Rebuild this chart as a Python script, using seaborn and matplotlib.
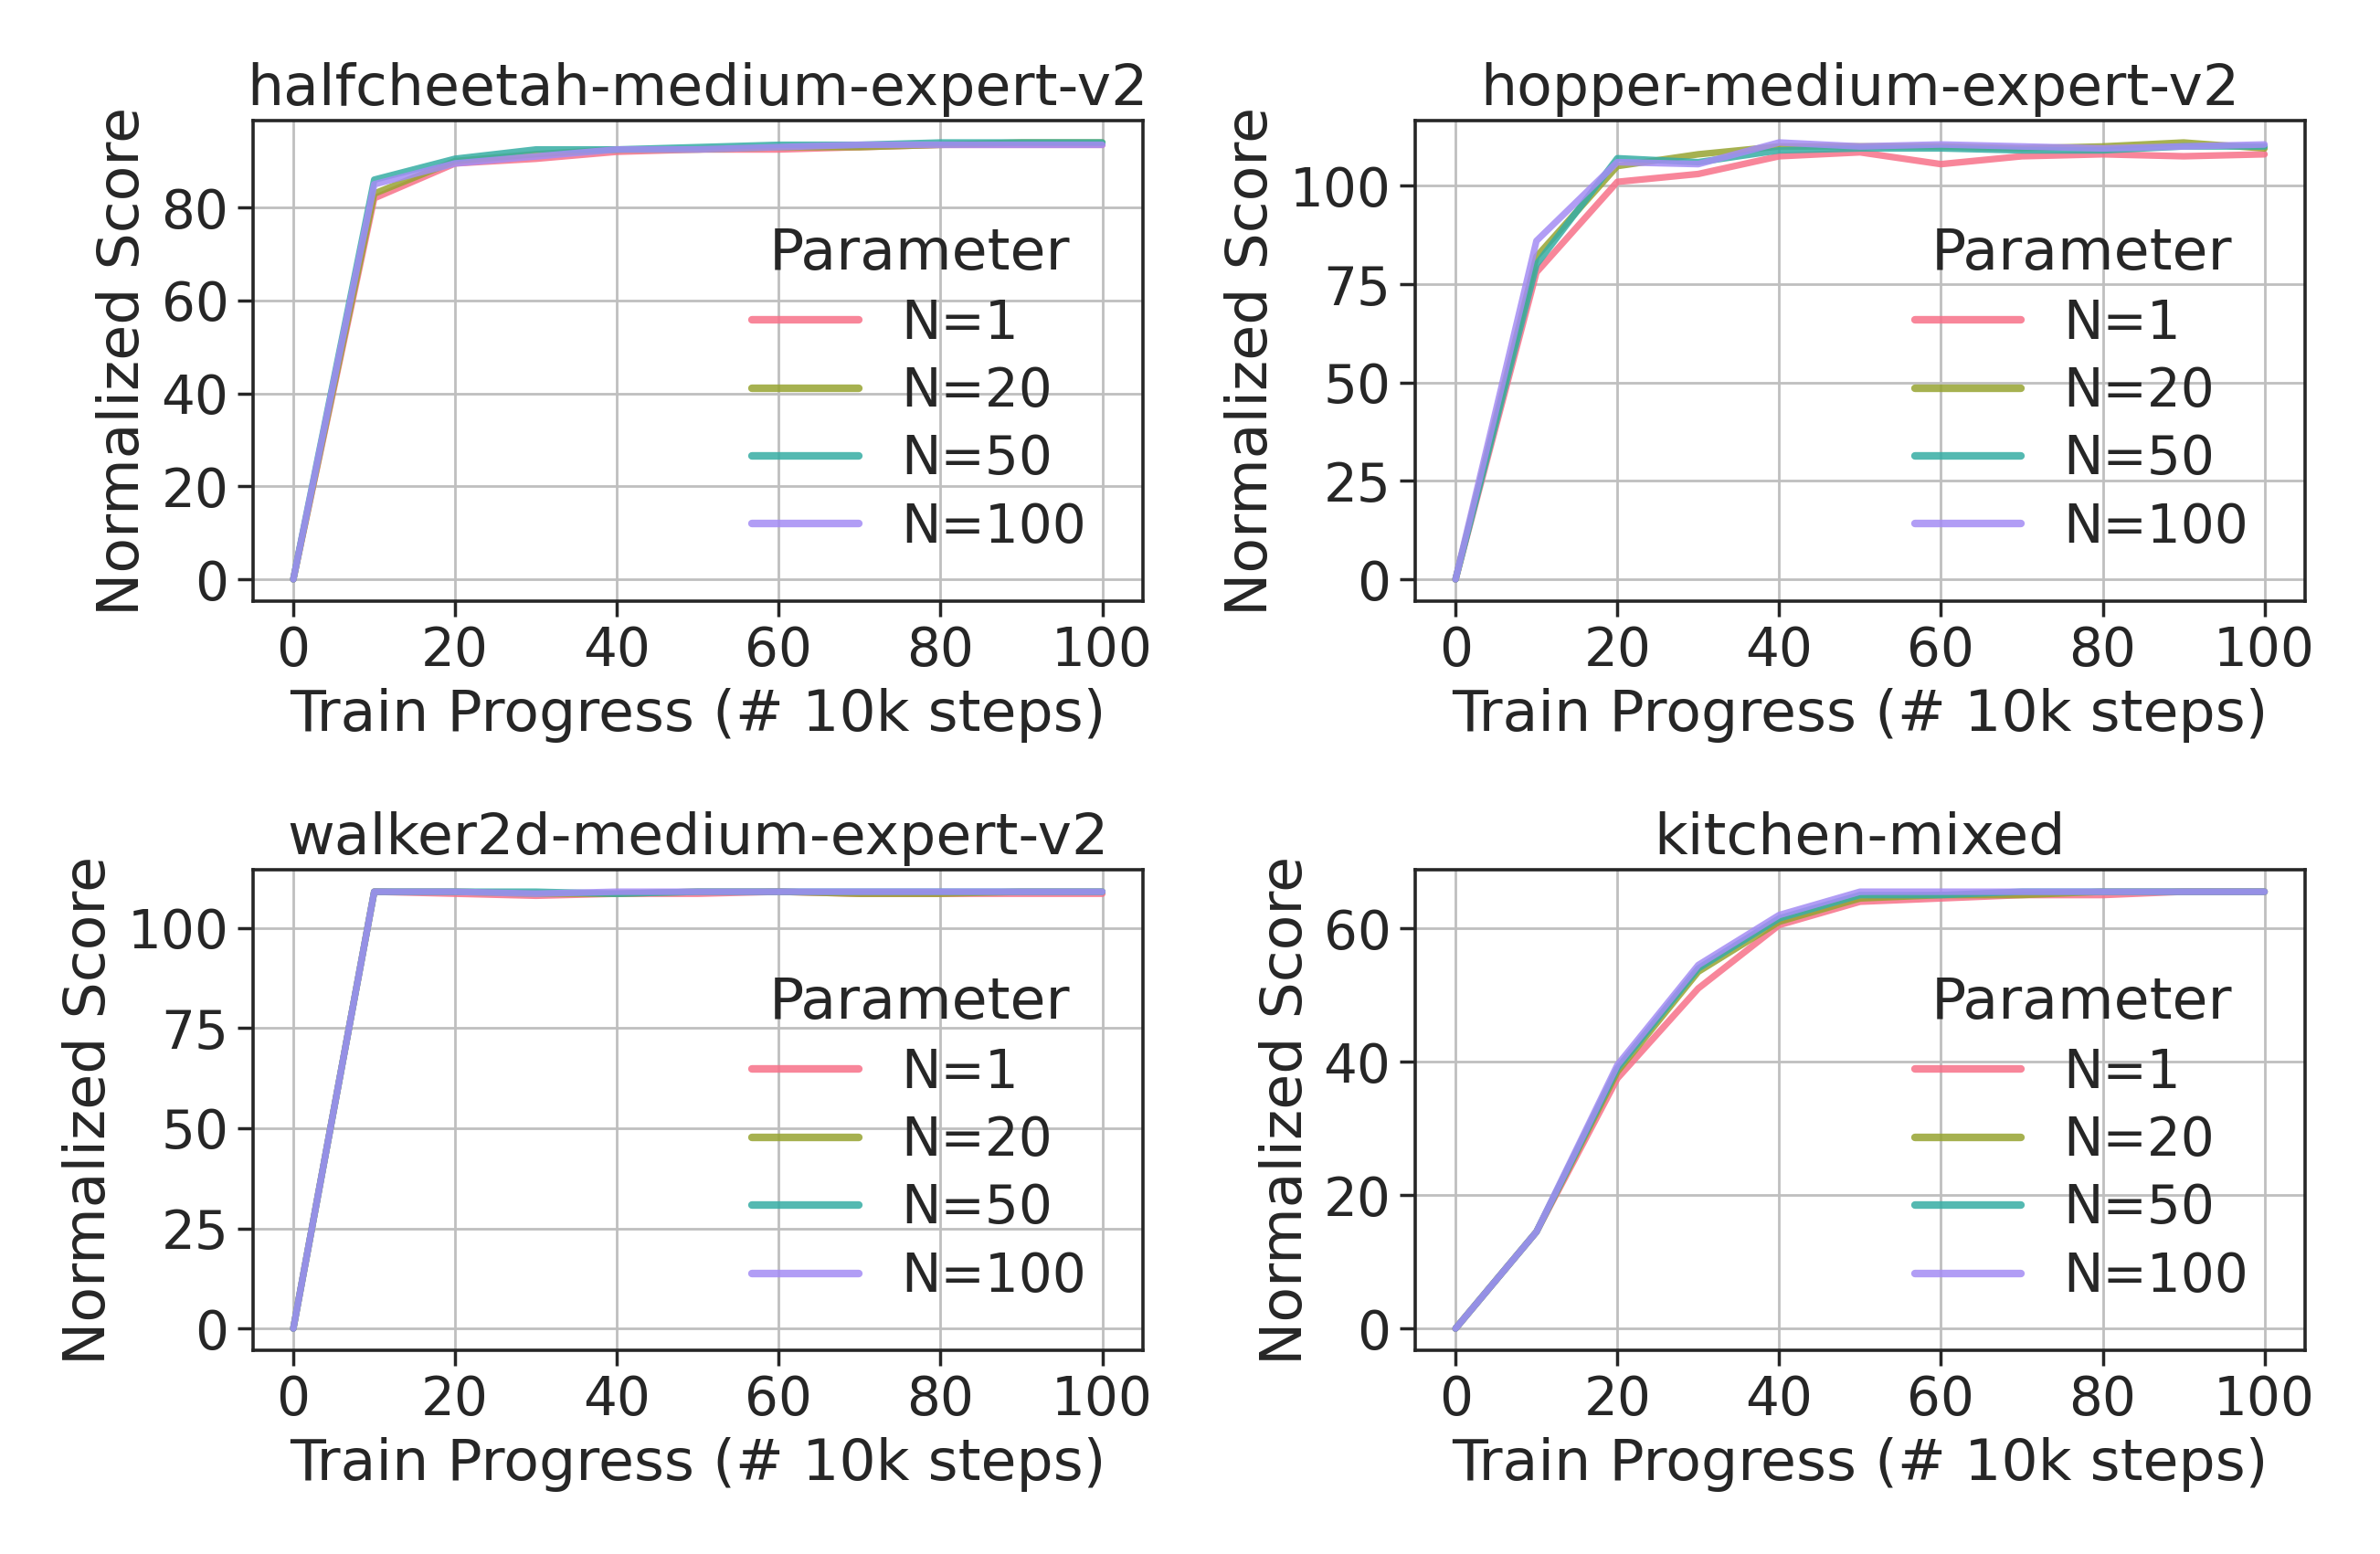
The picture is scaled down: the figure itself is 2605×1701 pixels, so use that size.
import numpy as np
import pandas as pd
import seaborn as sns
import matplotlib.pyplot as plt
from matplotlib.ticker import MultipleLocator

steps = [0, 10, 20, 30, 40, 50, 60, 70, 80, 90, 100]
params = ["N=1", "N=20", "N=50", "N=100"]
titles = ["halfcheetah-medium-expert-v2", "hopper-medium-expert-v2",
          "walker2d-medium-expert-v2", "kitchen-mixed"]

halfcheetah = {
    "N=1":   [0, 82, 89.5, 90.5, 92, 92.5, 92.5, 93, 93.5, 93.5, 93.5],
    "N=20":  [0, 83, 90, 91.5, 92.5, 92.5, 93, 93, 93.5, 94, 94],
    "N=50":  [0, 86, 90.5, 92.5, 92.5, 93, 93.5, 93.5, 94, 94, 94],
    "N=100": [0, 85, 89.5, 91, 92.5, 92.5, 93, 93.5, 93.5, 93.5, 93.5],
}
hopper = {
    "N=1":   [0, 78, 101, 103, 107.5, 108.5, 105.5, 107.5, 108, 107.5, 108],
    "N=20":  [0, 82, 105, 108, 110, 110, 110, 109.5, 110, 111, 109.5],
    "N=50":  [0, 80, 107, 106, 109, 109.5, 109.5, 109, 109, 110, 110],
    "N=100": [0, 86, 106, 105.5, 111, 110, 110.5, 110, 109.5, 110, 110.5],
}
walker = {
    "N=1":   [0, 109, 108.5, 108, 108.5, 108.5, 109, 108.5, 108.5, 108.5, 108.5],
    "N=20":  [0, 109, 109, 108.5, 108.5, 109, 109, 108.5, 108.5, 109, 109],
    "N=50":  [0, 109, 109, 109, 108.5, 109, 109, 109, 109, 109, 109],
    "N=100": [0, 109, 109, 108.5, 109, 109, 109, 109, 109, 109, 109],
}
kitchen = {
    "N=1":   [0, 14.5, 37.5, 51, 60.5, 64, 64.5, 65, 65, 65.5, 65.5],
    "N=20":  [0, 14.5, 38.5, 53.5, 61, 64.5, 65, 65, 65.5, 65.5, 65.5],
    "N=50":  [0, 14.5, 39, 54, 61.5, 65, 65, 65.5, 65.5, 65.5, 65.5],
    "N=100": [0, 14.5, 39.5, 54.5, 62, 65.5, 65.5, 65.5, 65.5, 65.5, 65.5],
}
datasets = [halfcheetah, hopper, walker, kitchen]
ysteps = [20, 25, 25, 20]

sns.set_theme(style="whitegrid", font_scale=1.9,
              rc={"axes.edgecolor": "0.15", "xtick.bottom": True, "ytick.left": True,
                  "grid.color": "0.75", "axes.linewidth": 1.3})
palette = sns.color_palette("husl", 4)

fig, axes = plt.subplots(2, 2, figsize=(13.025, 8.505), dpi=200)
for ax, title, data, ys in zip(axes.flat, titles, datasets, ysteps):
    rows = [(s, p, v) for p in params for s, v in zip(steps, data[p])]
    df = pd.DataFrame(rows, columns=["Train Progress (# 10k steps)", "Parameter", "Normalized Score"])
    sns.lineplot(data=df, x="Train Progress (# 10k steps)", y="Normalized Score",
                 hue="Parameter", hue_order=params, palette=palette, linewidth=2.6,
                 alpha=0.85, ax=ax)
    ax.set_title(title)
    ax.set_xticks([0, 20, 40, 60, 80, 100])
    ax.yaxis.set_major_locator(MultipleLocator(ys))
    leg = ax.legend(title="Parameter", loc="lower right", frameon=False,
                    bbox_to_anchor=(0.99, 0.0), labelspacing=0.3)
    for l in leg.get_lines():
        l.set_linewidth(3)
fig.tight_layout(h_pad=1.2, w_pad=1.2)
fig.savefig("out.png", dpi=200)
